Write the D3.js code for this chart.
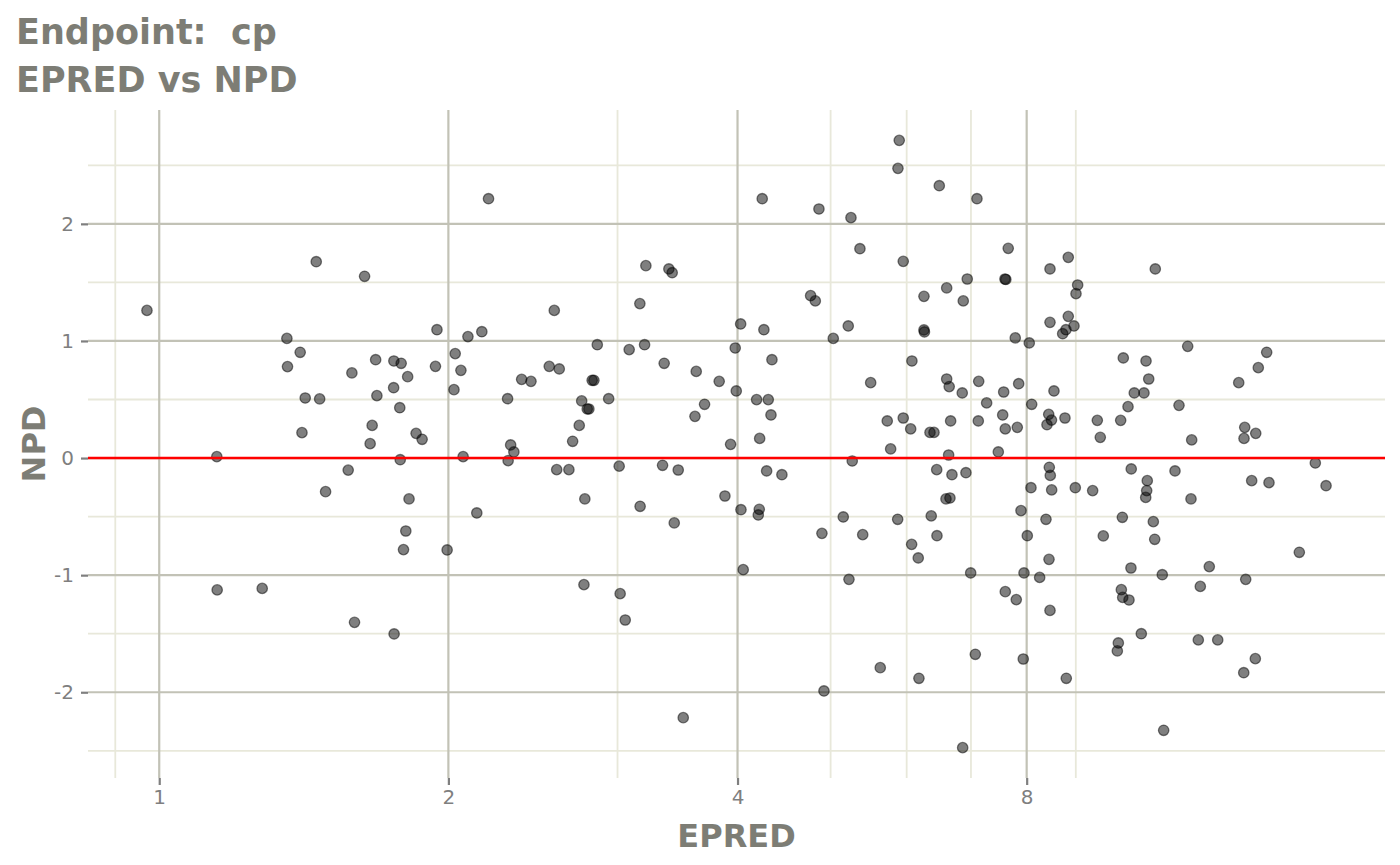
<!DOCTYPE html>
<html>
<head>
<meta charset="utf-8">
<script src="https://cdn.jsdelivr.net/npm/d3@7"></script>
<style>
  body { margin: 0; background: #fff; }
  svg { display: block; font-family: "DejaVu Sans", sans-serif; }
</style>
</head>
<body>
<svg id="svg" width="1400" height="865"></svg>
<script>
// EPRED (x, log scale) and NPD (y)
const epred = [
  0.971, 1.457, 1.636, 1.358, 1.402, 1.360, 1.419, 1.469, 1.408, 1.148,
  1.587, 1.680, 1.755, 1.786, 1.814, 1.754, 1.685, 1.780, 1.666, 1.658,
  1.782, 1.851, 1.878, 1.573, 1.490, 1.820, 1.806, 1.796, 1.149, 1.280,
  1.597, 1.756, 2.202, 1.946, 1.939, 2.033, 2.061, 2.027, 2.096, 2.167,
  2.072, 2.305, 2.322, 2.340, 2.308, 2.384, 2.438, 2.578, 2.547, 2.609,
  2.858, 2.823, 2.835, 2.753, 2.790, 2.801, 2.937, 2.737, 2.694, 2.593,
  2.670, 3.012, 3.211, 3.393, 3.420, 3.165, 3.085, 3.201, 3.355, 3.623,
  3.828, 3.696, 3.612, 3.934, 4.030, 3.978, 3.988, 3.342, 3.470, 2.774,
  2.141, 3.167, 3.437, 3.881, 4.033, 1.994, 4.055, 2.768, 3.019, 3.056,
  3.512, 5.894, 5.876, 6.488, 7.101, 4.244, 4.862, 5.250, 5.364, 5.951,
  7.654, 8.460, 8.839, 7.594, 7.610, 6.938, 6.604, 6.254, 6.872, 4.766,
  4.820, 4.261, 5.216, 5.032, 6.254, 6.261, 8.460, 8.839, 8.721, 8.790,
  7.784, 8.050, 4.344, 6.076, 5.504, 6.604, 6.644, 7.131, 7.848, 8.541,
  6.855, 7.571, 4.187, 4.306, 4.334, 4.218, 7.268, 8.097, 7.553, 7.124,
  6.667, 7.600, 7.822, 8.434, 8.490, 8.399, 8.769, 5.727, 5.951, 6.058,
  6.345, 6.406, 5.774, 6.635, 7.474, 5.266, 4.289, 4.449, 6.448, 6.688,
  6.916, 8.446, 8.466, 8.083, 8.494, 6.593, 6.656, 4.214, 4.204, 5.154,
  5.872, 6.364, 7.892, 8.379, 4.897, 5.400, 6.452, 8.012, 6.072, 6.169,
  8.440, 5.225, 6.995, 7.949, 8.253, 7.600, 7.803, 8.460, 7.073, 7.935,
  8.797, 5.632, 6.179, 4.921, 6.862, 9.040, 9.004, 8.961, 10.889, 11.769,
  10.085, 10.650, 10.719, 10.354, 10.598, 10.200, 11.526, 9.476, 10.022, 9.544,
  11.882, 13.300, 13.939, 14.222, 13.493, 13.854, 13.470, 10.279, 11.416, 10.682,
  10.667, 10.642, 8.989, 9.371, 11.862, 13.720, 14.301, 15.981, 16.397, 10.062,
  10.838, 9.613, 10.874, 15.379, 10.272, 11.073, 12.394, 12.130, 13.525, 10.038,
  10.071, 10.224, 10.530, 9.966, 9.942, 12.072, 12.647, 13.840, 13.461, 11.110
];
const npd = [
  1.261, 1.677, 1.552, 1.022, 0.903, 0.781, 0.513, 0.505, 0.217, 0.012,
  0.727, 0.840, 0.829, 0.809, 0.695, 0.601, 0.533, 0.430, 0.279, 0.123,
  -0.014, 0.211, 0.160, -0.103, -0.287, -0.349, -0.623, -0.782, -1.126, -1.113,
  -1.403, -1.502, 2.215, 1.096, 0.783, 0.892, 0.749, 0.584, 1.037, 1.079,
  0.012, 0.507, 0.112, 0.052, -0.022, 0.672, 0.655, 1.261, 0.783, 0.761,
  0.968, 0.664, 0.664, 0.488, 0.419, 0.419, 0.507, 0.279, 0.143, -0.099,
  -0.099, -0.069, 1.643, 1.615, 1.583, 1.319, 0.926, 0.968, 0.809, 0.740,
  0.655, 0.459, 0.356, 0.117, 1.145, 0.940, 0.573, -0.062, -0.102, -0.349,
  -0.469, -0.412, -0.554, -0.324, -0.441, -0.785, -0.953, -1.081, -1.158, -1.383,
  -2.217, 2.713, 2.474, 2.326, 2.215, 2.215, 2.127, 2.053, 1.788, 1.680,
  1.791, 1.615, 1.714, 1.529, 1.525, 1.529, 1.453, 1.381, 1.342, 1.387,
  1.342, 1.096, 1.128, 1.022, 1.094, 1.077, 1.159, 1.210, 1.062, 1.096,
  1.026, 0.983, 0.840, 0.829, 0.644, 0.675, 0.610, 0.655, 0.635, 0.573,
  0.556, 0.564, 0.499, 0.499, 0.368, 0.168, 0.471, 0.459, 0.368, 0.317,
  0.317, 0.249, 0.262, 0.373, 0.324, 0.285, 0.342, 0.317, 0.342, 0.249,
  0.219, 0.219, 0.078, 0.026, 0.052, -0.025, -0.110, -0.142, -0.099, -0.142,
  -0.125, -0.079, -0.148, -0.253, -0.272, -0.349, -0.341, -0.438, -0.486, -0.503,
  -0.523, -0.494, -0.449, -0.523, -0.643, -0.654, -0.663, -0.663, -0.737, -0.853,
  -0.865, -1.036, -0.981, -0.981, -1.019, -1.141, -1.209, -1.301, -1.676, -1.716,
  -1.881, -1.790, -1.881, -1.989, -2.473, 1.478, 1.404, 1.128, 1.615, 0.954,
  0.855, 0.829, 0.675, 0.556, 0.556, 0.439, 0.450, 0.322, 0.322, 0.177,
  0.155, 0.644, 0.772, 0.903, 0.262, 0.211, 0.168, -0.093, -0.110, -0.193,
  -0.278, -0.336, -0.253, -0.278, -0.349, -0.193, -0.210, -0.042, -0.236, -0.506,
  -0.543, -0.665, -0.694, -0.805, -0.939, -0.996, -0.927, -1.096, -1.036, -1.124,
  -1.190, -1.212, -1.500, -1.579, -1.647, -1.553, -1.553, -1.713, -1.833, -2.325
];
const xMajor = [1, 2, 4, 8];
const xMinor = [0.9, 3, 5, 6, 7, 9];
const yMajor = [-2, -1, 0, 1, 2];
const yMinor = [-2.5, -1.5, -0.5, 0.5, 1.5, 2.5];
const titleLines = ['Endpoint:  cp', 'EPRED vs NPD'];

const points = epred.map((e, i) => ({ x: e, y: npd[i] }));

const panel = { left: 88, right: 1385, top: 110, bottom: 778 };
const svg = d3.select('#svg');

// ggplot style 5% expansion (in log space for x)
const lx = d3.extent(epred, (d) => Math.log2(d));
const padX = (lx[1] - lx[0]) * 0.05;
const ly = d3.extent(npd);
const padY = (ly[1] - ly[0]) * 0.05;

const x = d3.scaleLog().base(2)
  .domain([Math.pow(2, lx[0] - padX), Math.pow(2, lx[1] + padX)])
  .range([panel.left, panel.right]);
const y = d3.scaleLinear()
  .domain([ly[0] - padY, ly[1] + padY])
  .range([panel.bottom, panel.top]);

const grid = svg.append('g');
grid.selectAll('.xminor').data(xMinor).enter().append('line')
  .attr('x1', (d) => x(d)).attr('x2', (d) => x(d))
  .attr('y1', panel.top).attr('y2', panel.bottom)
  .attr('stroke', '#e8e8da').attr('stroke-width', 1.8);
grid.selectAll('.yminor').data(yMinor).enter().append('line')
  .attr('x1', panel.left).attr('x2', panel.right)
  .attr('y1', (d) => y(d)).attr('y2', (d) => y(d))
  .attr('stroke', '#e8e8da').attr('stroke-width', 1.8);
grid.selectAll('.xmajor').data(xMajor).enter().append('line')
  .attr('x1', (d) => x(d)).attr('x2', (d) => x(d))
  .attr('y1', panel.top).attr('y2', panel.bottom)
  .attr('stroke', '#c2c2b6').attr('stroke-width', 2.2);
grid.selectAll('.ymajor').data(yMajor).enter().append('line')
  .attr('x1', panel.left).attr('x2', panel.right)
  .attr('y1', (d) => y(d)).attr('y2', (d) => y(d))
  .attr('stroke', '#c2c2b6').attr('stroke-width', 2.2);

// points
svg.append('g').selectAll('circle').data(points).enter().append('circle')
  .attr('cx', (d) => x(d.x))
  .attr('cy', (d) => y(d.y))
  .attr('r', 5.2)
  .attr('fill', '#000').attr('fill-opacity', 0.5)
  .attr('stroke', '#000').attr('stroke-opacity', 0.5).attr('stroke-width', 1.3);

// reference line at 0
svg.append('line')
  .attr('x1', panel.left).attr('x2', panel.right)
  .attr('y1', y(0)).attr('y2', y(0))
  .attr('stroke', '#ff0000').attr('stroke-width', 2.4);

// axes
const xAxis = d3.axisBottom(x).tickValues(xMajor).tickFormat(d3.format('d'))
  .tickSize(7).tickPadding(5);
const gx = svg.append('g').attr('transform', 'translate(0,' + panel.bottom + ')').call(xAxis);
const yAxis = d3.axisLeft(y).tickValues(yMajor).tickFormat((d) => d)
  .tickSize(7).tickPadding(7);
const gy = svg.append('g').attr('transform', 'translate(' + panel.left + ',0)').call(yAxis);

[gx, gy].forEach((g) => {
  g.select('.domain').remove();
  g.selectAll('.tick line').attr('stroke', '#7f7f7f').attr('stroke-width', 2.2);
  g.selectAll('.tick text').attr('fill', '#7f7f7f')
    .style('font-family', '"DejaVu Sans", sans-serif').style('font-size', '20px');
});

// titles
svg.append('text').attr('x', (panel.left + panel.right) / 2).attr('y', 847)
  .attr('text-anchor', 'middle').attr('fill', '#7d7d75')
  .style('font-size', '32px').style('font-weight', 'bold').text('EPRED');
svg.append('text')
  .attr('transform', 'translate(45,' + (panel.top + panel.bottom) / 2 + ') rotate(-90)')
  .attr('text-anchor', 'middle').attr('fill', '#7d7d75')
  .style('font-size', '32px').style('font-weight', 'bold').text('NPD');

svg.selectAll('.title').data(titleLines).enter().append('text')
  .attr('class', 'title')
  .attr('x', 16).attr('y', (d, i) => 44 + i * 48)
  .attr('fill', '#7d7d75')
  .style('font-size', '35px').style('font-weight', 'bold')
  .style('white-space', 'pre')
  .text((d) => d);
</script>
</body>
</html>
